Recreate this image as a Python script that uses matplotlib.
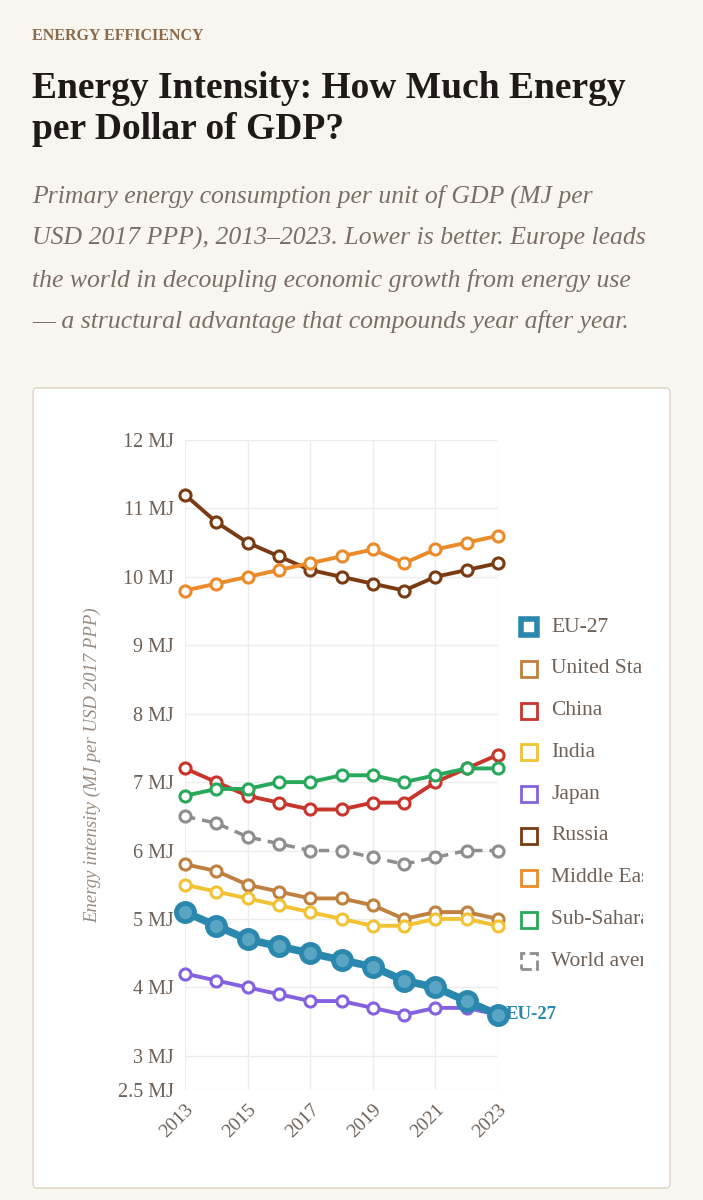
import matplotlib.pyplot as plt
from matplotlib.patches import Rectangle, FancyBboxPatch

years = list(range(2013, 2024))
names = ['EU-27', 'United States', 'China', 'India', 'Japan', 'Russia',
         'Middle East', 'Sub-Saharan Africa', 'World average']
eu = [5.1, 4.9, 4.7, 4.6, 4.5, 4.4, 4.3, 4.1, 4.0, 3.8, 3.6]
us = [5.8, 5.7, 5.5, 5.4, 5.3, 5.3, 5.2, 5.0, 5.1, 5.1, 5.0]
china = [7.2, 7.0, 6.8, 6.7, 6.6, 6.6, 6.7, 6.7, 7.0, 7.2, 7.4]
india = [5.5, 5.4, 5.3, 5.2, 5.1, 5.0, 4.9, 4.9, 5.0, 5.0, 4.9]
japan = [4.2, 4.1, 4.0, 3.9, 3.8, 3.8, 3.7, 3.6, 3.7, 3.7, 3.6]
russia = [11.2, 10.8, 10.5, 10.3, 10.1, 10.0, 9.9, 9.8, 10.0, 10.1, 10.2]
mideast = [9.8, 9.9, 10.0, 10.1, 10.2, 10.3, 10.4, 10.2, 10.4, 10.5, 10.6]
ssa = [6.8, 6.9, 6.9, 7.0, 7.0, 7.1, 7.1, 7.0, 7.1, 7.2, 7.2]
world = [6.5, 6.4, 6.2, 6.1, 6.0, 6.0, 5.9, 5.8, 5.9, 6.0, 6.0]
series = [eu, us, china, india, japan, russia, mideast, ssa, world]
colors = ['#2a87ad', '#c0803f', '#c8352b', '#f1c232', '#8461e0', '#7a3a12',
          '#ec8a2a', '#27a85a', '#8e8e8e']
yticks = [2.5, 3, 4, 5, 6, 7, 8, 9, 10, 11, 12]

serif = ['Liberation Serif', 'DejaVu Serif']
W, H = 703, 1200
fig = plt.figure(figsize=(W / 100, H / 100), dpi=100)
fig.patch.set_facecolor('#f9f6f1')

def fx(px): return px / W
def fy(py): return 1 - py / H

fig.text(fx(32), fy(36), 'ENERGY EFFICIENCY', family=serif, fontsize=11.5,
         color='#8a6a4a', weight='bold', va='center')
fig.text(fx(32), fy(109), 'Energy Intensity: How Much Energy\nper Dollar of GDP?',
         family=serif, fontsize=27, weight='bold', color='#1f1a17', va='center',
         linespacing=1.25)
fig.text(fx(32), fy(259),
         'Primary energy consumption per unit of GDP (MJ per\n'
         'USD 2017 PPP), 2013–2023. Lower is better. Europe leads\n'
         'the world in decoupling economic growth from energy use\n'
         '— a structural advantage that compounds year after year.',
         family=serif, fontsize=18.5, style='italic', color='#7a6e66', va='center',
         linespacing=2.05)

card = FancyBboxPatch((fx(33), fy(1188)), fx(670) - fx(33), fy(388) - fy(1188),
                      boxstyle='round,pad=0,rounding_size=0.004',
                      transform=fig.transFigure, facecolor='white',
                      edgecolor='#ddd3c6', linewidth=1, zorder=-5)
fig.patches.append(card)

ax = fig.add_axes([fx(185), fy(1090), fx(498) - fx(185), fy(440) - fy(1090)])
ax.set_facecolor('white')
for i, (s, c) in enumerate(zip(series, colors)):
    if i == 0:
        ax.plot(years, s, color=c, lw=5.5, marker='o', ms=13, mfc='#5aa5c4',
                mec=c, mew=3.5, zorder=5, clip_on=False)
    elif names[i] == 'World average':
        ax.plot(years, s, color=c, lw=2.5, ls=(0, (3, 2)), marker='o', ms=8,
                mfc='white', mec=c, mew=2.2, zorder=3, clip_on=False)
    else:
        ax.plot(years, s, color=c, lw=2.8, marker='o', ms=8, mfc='white',
                mec=c, mew=2.2, zorder=3, clip_on=False)
ax.text(years[-1] + 0.25, eu[-1], 'EU-27', color=colors[0], family=serif,
        fontsize=13.5, weight='bold', va='center', clip_on=False)

ax.set_xlim(2013, 2023)
ax.set_ylim(2.5, 12)
ax.set_yticks(yticks)
ax.set_yticklabels([f'{t:g} MJ' for t in yticks], family=serif, fontsize=14.5,
                   color='#6e6055')
ax.set_xticks(years[::2])
ax.set_xticklabels([str(y) for y in years[::2]], rotation=45, ha='right',
                   rotation_mode='anchor', family=serif, fontsize=14,
                   color='#6e6055')
ax.grid(color='#ececec', lw=1)
ax.tick_params(length=0, pad=8)
for sp in ax.spines.values():
    sp.set_visible(False)
ax.set_ylabel('Energy intensity (MJ per USD 2017 PPP)', family=serif,
              style='italic', fontsize=13.5, color='#9a8c80', labelpad=12)

clip = Rectangle((fx(33), fy(1188)), fx(643) - fx(33), fy(388) - fy(1188),
                 transform=fig.transFigure, visible=False)
fig.patches.append(clip)
for i, (n, c) in enumerate(zip(names, colors)):
    y = 627 + i * 41.8
    ls = '--' if n == 'World average' else '-'
    lw = 4 if i == 0 else 2
    sq = Rectangle((fx(521), fy(y + 8)), fx(537) - fx(521), fy(y - 8) - fy(y + 8),
                   transform=fig.transFigure, facecolor='white', edgecolor=c,
                   linewidth=lw, linestyle=ls)
    fig.patches.append(sq)
    t = fig.text(fx(551), fy(y), n, family=serif, fontsize=15.5, color='#6e6055',
                 va='center')
    t.set_clip_path(clip)

fig.savefig('out.png', dpi=100, facecolor=fig.get_facecolor())
